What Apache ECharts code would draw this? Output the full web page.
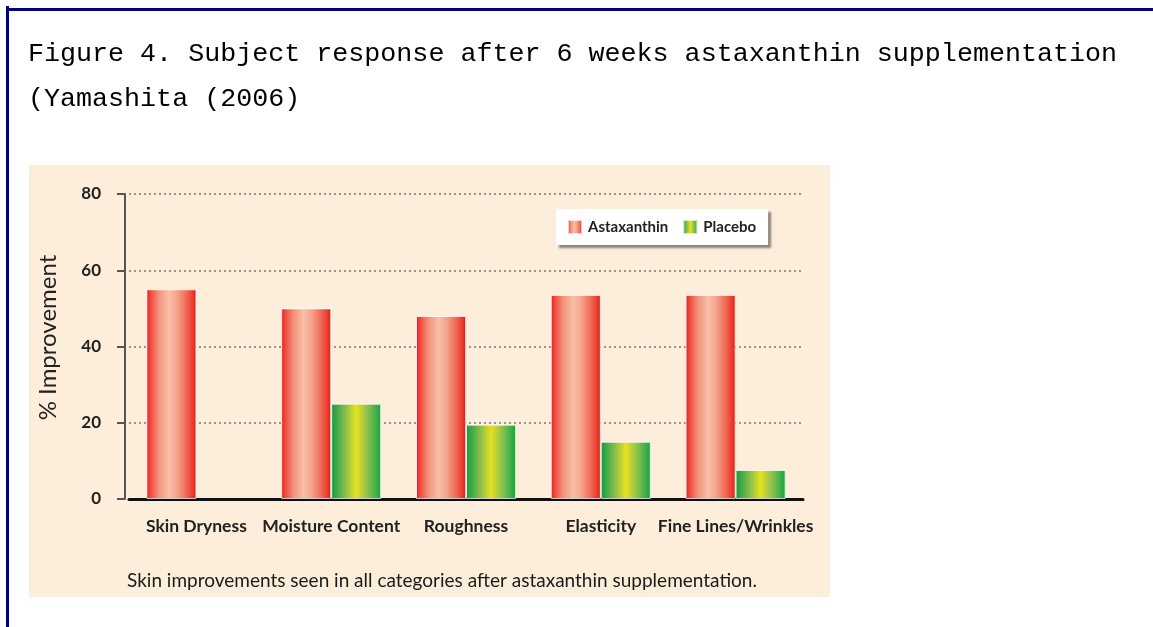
<!DOCTYPE html>
<html>
<head>
<meta charset="utf-8">
<script src="https://cdn.jsdelivr.net/npm/echarts@6/dist/echarts.min.js"></script>
<style>
html,body{margin:0;padding:0;background:#fff;}
#chart{width:1153px;height:627px;}
</style>
</head>
<body>
<div id="chart"></div>
<script>
const titleText = 'Figure 4. Subject response after 6 weeks astaxanthin supplementation\n(Yamashita (2006)';
const captionText = 'Skin improvements seen in all categories after astaxanthin supplementation.';
const yAxisName = '% Improvement';
const categories = ['Skin Dryness', 'Moisture Content', 'Roughness', 'Elasticity', 'Fine Lines/Wrinkles'];
const astaxanthin = [55, 50, 48, 53.5, 53.5];
const placebo = [null, 25, 19.5, 15, 7.6];
const yTicks = [0, 20, 40, 60, 80];

const redGrad = {
  type: 'linear', x: 0, y: 0, x2: 1, y2: 0,
  colorStops: [
    {offset: 0, color: '#ec1a1a'},
    {offset: 0.08, color: '#ef4a3e'},
    {offset: 0.25, color: '#f4937c'},
    {offset: 0.45, color: '#f8bfa8'},
    {offset: 0.6, color: '#f5a58e'},
    {offset: 0.8, color: '#f06a55'},
    {offset: 0.93, color: '#ec3a2c'},
    {offset: 1, color: '#e81414'}
  ]
};
const greenGrad = {
  type: 'linear', x: 0, y: 0, x2: 1, y2: 0,
  colorStops: [
    {offset: 0, color: '#129c3a'},
    {offset: 0.1, color: '#3aa848'},
    {offset: 0.3, color: '#8fc04c'},
    {offset: 0.5, color: '#e6e21e'},
    {offset: 0.7, color: '#98c44c'},
    {offset: 0.9, color: '#3cb04a'},
    {offset: 1, color: '#14a63a'}
  ]
};

const chart = echarts.init(document.getElementById('chart'), null, {renderer: 'canvas'});
const labelFont = 'Lato, "Open Sans", sans-serif';
chart.setOption({
  backgroundColor: '#ffffff',
  animation: false,
  graphic: [
    {type: 'rect', z: -10, shape: {x: 29, y: 165, width: 801, height: 432}, style: {fill: '#fdeedb'}},
    {type: 'rect', z: -5, shape: {x: 6, y: 6, width: 3, height: 621}, style: {fill: '#000080'}},
    {type: 'rect', z: -5, shape: {x: 6, y: 8, width: 1147, height: 3}, style: {fill: '#000080'}}
  ],
  title: [
    {
      text: titleText,
      left: 23, top: 26,
      textStyle: {fontFamily: '"Liberation Mono", monospace', fontSize: 26.7, fontWeight: 'normal', color: '#000', lineHeight: 45}
    },
    {
      text: captionText,
      left: 437, top: 566, textAlign: 'center',
      textStyle: {fontFamily: labelFont, fontSize: 19, fontWeight: 'normal', color: '#1a1a1a'}
    }
  ],
  legend: {
    data: ['Astaxanthin', 'Placebo'],
    left: 556, top: 209,
    padding: [10, 12, 10, 11],
    itemWidth: 14, itemHeight: 14, itemGap: 14,
    icon: 'rect',
    backgroundColor: '#ffffff',
    shadowColor: 'rgba(0,0,0,0.45)', shadowBlur: 2, shadowOffsetX: 3, shadowOffsetY: 3,
    textStyle: {fontFamily: labelFont, fontSize: 15, fontWeight: 'bold', color: '#222', padding: [0, 0, 0, 1]}
  },
  grid: {left: 129, right: 350, top: 194, bottom: 128, containLabel: false},
  xAxis: {
    type: 'category',
    data: categories,
    axisLine: {show: true, lineStyle: {color: '#111', width: 3}},
    axisTick: {show: false},
    axisLabel: {interval: 0, fontFamily: labelFont, fontSize: 17.5, fontWeight: 'bold', color: '#222', margin: 18}
  },
  yAxis: {
    type: 'value',
    min: yTicks[0], max: yTicks[yTicks.length - 1], interval: yTicks[1] - yTicks[0],
    offset: 4,
    name: yAxisName,
    nameLocation: 'middle',
    nameGap: 65,
    nameTextStyle: {fontFamily: labelFont, fontSize: 24, color: '#222', padding: [0, 0, 0, 18]},
    axisLine: {show: true, lineStyle: {color: '#555', width: 2}},
    axisTick: {show: true, length: 8, lineStyle: {color: '#555', width: 2}},
    axisLabel: {fontFamily: labelFont, fontSize: 17, fontWeight: 'bold', color: '#222', margin: 24},
    splitLine: {show: true, lineStyle: {color: '#777', width: 1.5, type: [2, 3]}}
  },
  series: [
    {
      name: 'Astaxanthin', type: 'bar', data: astaxanthin,
      barWidth: 50, barGap: '0%',
      itemStyle: {color: redGrad, borderColor: 'rgba(255,255,255,0.7)', borderWidth: 1}
    },
    {
      name: 'Placebo', type: 'bar', data: placebo,
      barWidth: 50,
      itemStyle: {color: greenGrad, borderColor: 'rgba(255,255,255,0.7)', borderWidth: 1}
    }
  ]
});
</script>
</body>
</html>
